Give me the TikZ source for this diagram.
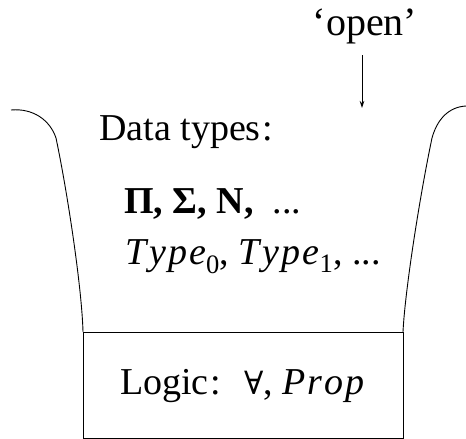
\documentclass[tikz,border=0pt]{standalone}
\usepackage{fontspec}
\setmainfont{Liberation Serif}
\newfontfamily\symfnt{DejaVu Serif}
\usetikzlibrary{arrows.meta}
\newcommand{\spit}[1]{\textit{#1}}
\begin{document}
\begin{tikzpicture}[x=1pt,y=-1pt,
  line/.style={line width=0.9pt},
  txt/.style={anchor=base west,inner sep=0pt,font=\fontsize{38}{40}\selectfont},
  lbl/.style={anchor=base,inner sep=0pt,font=\fontsize{40}{44}\selectfont}]
\useasboundingbox (0,0) rectangle (466,439);
% funnel sides
\draw[line] (11,110) .. controls (33,108) and (50,120) .. (56,138)
  .. controls (68,195) and (82,290) .. (83,332);
\draw[line] (466,106) .. controls (448,107) and (437,120) .. (432,138)
  .. controls (420,195) and (405,290) .. (403,332);
% logic box
\node[draw,line width=0.9pt,minimum width=320pt,minimum height=106pt,anchor=north west,inner sep=0pt] (logicbox) at (83,332) {};
% texts
\node[lbl] (open) at (365,35) {‘open’};
\coordinate (atop) at (362,55);
\coordinate (atip) at (362,108);
\draw[line,-{Stealth[length=7pt,width=4.5pt]}] (atop) -- (atip);
\node[txt] (data) at (99,140) {Data types\kern2pt:};
\node[txt] (pi) at (124,213) {\textbf{Π, Σ, N,}\enspace ...};
\node[txt] (type) at (125,264) {\textit{T\kern3pt y\kern2pt p\kern2pt e}\textsubscript{0}, \textit{T\kern3pt y\kern2pt p\kern2pt e}\textsubscript{1}, ...};
\node[txt] (logic) at (120,394) {Logic\kern2pt:\hspace{0.6em}{\symfnt\fontsize{32}{36}\selectfont ∀}, \textit{P\kern2pt r\kern2pt o\kern2pt p}};
\end{tikzpicture}
\end{document}
